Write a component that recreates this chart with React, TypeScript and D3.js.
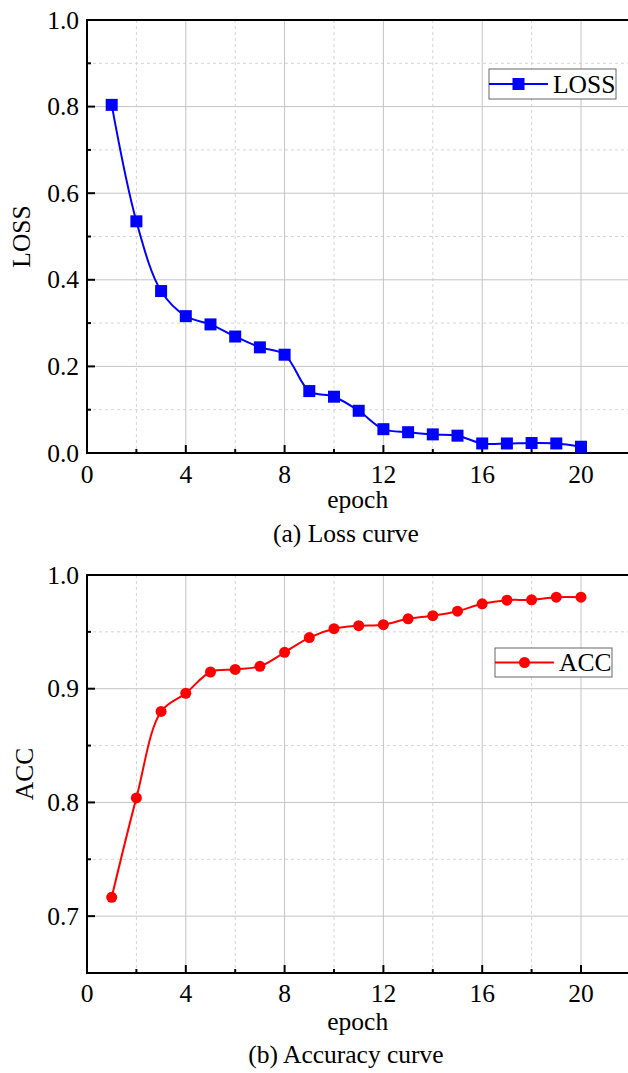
import React from "react";
import * as d3 from "d3";

const epochs = [1, 2, 3, 4, 5, 6, 7, 8, 9, 10, 11, 12, 13, 14, 15, 16, 17, 18, 19, 20];
const lossValues = [0.804, 0.535, 0.374, 0.316, 0.297, 0.269, 0.244, 0.227, 0.143, 0.130, 0.0975, 0.055, 0.048, 0.043, 0.040, 0.022, 0.022, 0.023, 0.022, 0.0145];
const accValues = [0.7166, 0.804, 0.880, 0.896, 0.9147, 0.917, 0.9197, 0.932, 0.945, 0.9528, 0.9554, 0.9563, 0.9615, 0.9642, 0.9682, 0.9747, 0.9779, 0.9782, 0.9805, 0.9805];
const xMajorTicks = [0, 4, 8, 12, 16, 20];
const xMinorTicks = [2, 6, 10, 14, 18, 22];
const lossMajorTicks = [0, 0.2, 0.4, 0.6, 0.8, 1.0];
const lossMinorTicks = [0.1, 0.3, 0.5, 0.7, 0.9];
const accMajorTicks = [0.7, 0.8, 0.9, 1.0];
const accMinorTicks = [0.75, 0.85, 0.95];

const FONT = "'Liberation Serif', 'Times New Roman', serif";
const FS = 25.5;

type PanelProps = {
  top: number;
  bottom: number;
  values: number[];
  yDomain: [number, number];
  yMajor: number[];
  yMinor: number[];
  color: string;
  marker: "square" | "circle";
  yTitle: string;
  caption: string;
  legend: { x0: number; x1: number; y0: number; y1: number };
  xTickBase: number;
  epochBase: number;
  captionBase: number;
};

function Panel(p: PanelProps) {
  const left = 87;
  const x = d3.scaleLinear().domain([0, 22]).range([left, left + 22 * 24.7]);
  const y = d3.scaleLinear().domain(p.yDomain).range([p.bottom, p.top]);
  const right = x(22);
  const pts = epochs.map((e, i) => [x(e), y(p.values[i])] as [number, number]);
  const line = d3.line().curve(d3.curveCatmullRom.alpha(0.5))(pts) || "";
  const fmt = d3.format(".1f");
  const mk = (cx: number, cy: number, key: string | number) =>
    p.marker === "square" ? (
      <rect key={key} x={cx - 6} y={cy - 6} width={12} height={12} fill={p.color} />
    ) : (
      <circle key={key} cx={cx} cy={cy} r={5.5} fill={p.color} />
    );
  const lg = p.legend;
  const lgMid = (lg.y0 + lg.y1) / 2;
  const lineEnd = lg.x0 + 59;
  return (
    <g>
      {xMinorTicks.map((t) => (
        <line key={"xm" + t} x1={x(t)} x2={x(t)} y1={p.top} y2={p.bottom} stroke="#d4d4d4" strokeDasharray="3,3" strokeWidth={1} />
      ))}
      {p.yMinor.map((t) => (
        <line key={"ym" + t} x1={left} x2={right} y1={y(t)} y2={y(t)} stroke="#d4d4d4" strokeDasharray="3,3" strokeWidth={1} />
      ))}
      {xMajorTicks.filter((t) => t > 0).map((t) => (
        <line key={"xM" + t} x1={x(t)} x2={x(t)} y1={p.top} y2={p.bottom} stroke="#c4c4c4" strokeWidth={1} />
      ))}
      {p.yMajor.filter((t) => t > p.yDomain[0] && t < p.yDomain[1]).map((t) => (
        <line key={"yM" + t} x1={left} x2={right} y1={y(t)} y2={y(t)} stroke="#c4c4c4" strokeWidth={1} />
      ))}
      <line x1={left} x2={right + 2} y1={p.top} y2={p.top} stroke="#000" strokeWidth={2} />
      <line x1={left} x2={right + 2} y1={p.bottom} y2={p.bottom} stroke="#000" strokeWidth={2} />
      <line x1={left} x2={left} y1={p.top - 1} y2={p.bottom + 1} stroke="#000" strokeWidth={2} />
      {xMajorTicks.map((t) => (
        <line key={"xt" + t} x1={x(t)} x2={x(t)} y1={p.bottom} y2={p.bottom - 8} stroke="#000" strokeWidth={2} />
      ))}
      {xMinorTicks.map((t) => (
        <line key={"xmt" + t} x1={x(t)} x2={x(t)} y1={p.bottom} y2={p.bottom - 4} stroke="#000" strokeWidth={2} />
      ))}
      {p.yMajor.map((t) => (
        <line key={"yt" + t} x1={left} x2={left + 8} y1={y(t)} y2={y(t)} stroke="#000" strokeWidth={2} />
      ))}
      {p.yMinor.map((t) => (
        <line key={"ymt" + t} x1={left} x2={left + 4} y1={y(t)} y2={y(t)} stroke="#000" strokeWidth={2} />
      ))}
      {xMajorTicks.map((t) => (
        <text key={"xl" + t} x={x(t)} y={p.xTickBase} textAnchor="middle" fontSize={FS} fontFamily={FONT} fill="#000">
          {t}
        </text>
      ))}
      {p.yMajor.map((t) => (
        <text key={"yl" + t} x={left - 8} y={y(t)} dy="0.34em" textAnchor="end" fontSize={FS} fontFamily={FONT} fill="#000">
          {fmt(t)}
        </text>
      ))}
      <text x={x(11) - 1} y={p.epochBase} textAnchor="middle" fontSize={FS} fontFamily={FONT} fill="#000">
        epoch
      </text>
      <text x={346} y={p.captionBase} textAnchor="middle" fontSize={FS} fontFamily={FONT} fill="#000">
        {p.caption}
      </text>
      <text
        transform={`translate(${p.yTitle === "LOSS" ? 30 : 33},${(p.top + p.bottom) / 2}) rotate(-90)`}
        textAnchor="middle"
        fontSize={FS}
        fontFamily={FONT}
        fill="#000"
      >
        {p.yTitle}
      </text>
      <path d={line} fill="none" stroke={p.color} strokeWidth={2} />
      {pts.map((q, i) => mk(q[0], q[1], i))}
      <rect x={lg.x0} y={lg.y0} width={lg.x1 - lg.x0} height={lg.y1 - lg.y0} fill="#fff" stroke="#666" strokeWidth={1} />
      <line x1={lg.x0} x2={lineEnd} y1={lgMid} y2={lgMid} stroke={p.color} strokeWidth={2} />
      {mk((lg.x0 + lineEnd) / 2, lgMid, "lg")}
      <text x={lineEnd + 5} y={lgMid} dy="0.35em" fontSize={FS} fontFamily={FONT} fill="#000">
        {p.yTitle}
      </text>
    </g>
  );
}

export default function App() {
  return (
    <svg
      width={628}
      height={1073}
      viewBox="0 0 628 1073"
      style={{ position: "absolute", left: 0, top: 0, background: "#fff" }}
    >
      <rect x={0} y={0} width={628} height={1073} fill="#fff" />
      <Panel
        top={20}
        bottom={453}
        values={lossValues}
        yDomain={[0, 1]}
        yMajor={lossMajorTicks}
        yMinor={lossMinorTicks}
        color="#0000ff"
        marker="square"
        yTitle="LOSS"
        caption="(a) Loss curve"
        legend={{ x0: 489, x1: 616, y0: 69, y1: 99 }}
        xTickBase={483}
        epochBase={508}
        captionBase={542}
      />
      <Panel
        top={575}
        bottom={973}
        values={accValues}
        yDomain={[0.65, 1.0]}
        yMajor={accMajorTicks}
        yMinor={accMinorTicks}
        color="#ff0000"
        marker="circle"
        yTitle="ACC"
        caption="(b) Accuracy curve"
        legend={{ x0: 495, x1: 612, y0: 648, y1: 677 }}
        xTickBase={1002}
        epochBase={1030}
        captionBase={1063}
      />
    </svg>
  );
}
